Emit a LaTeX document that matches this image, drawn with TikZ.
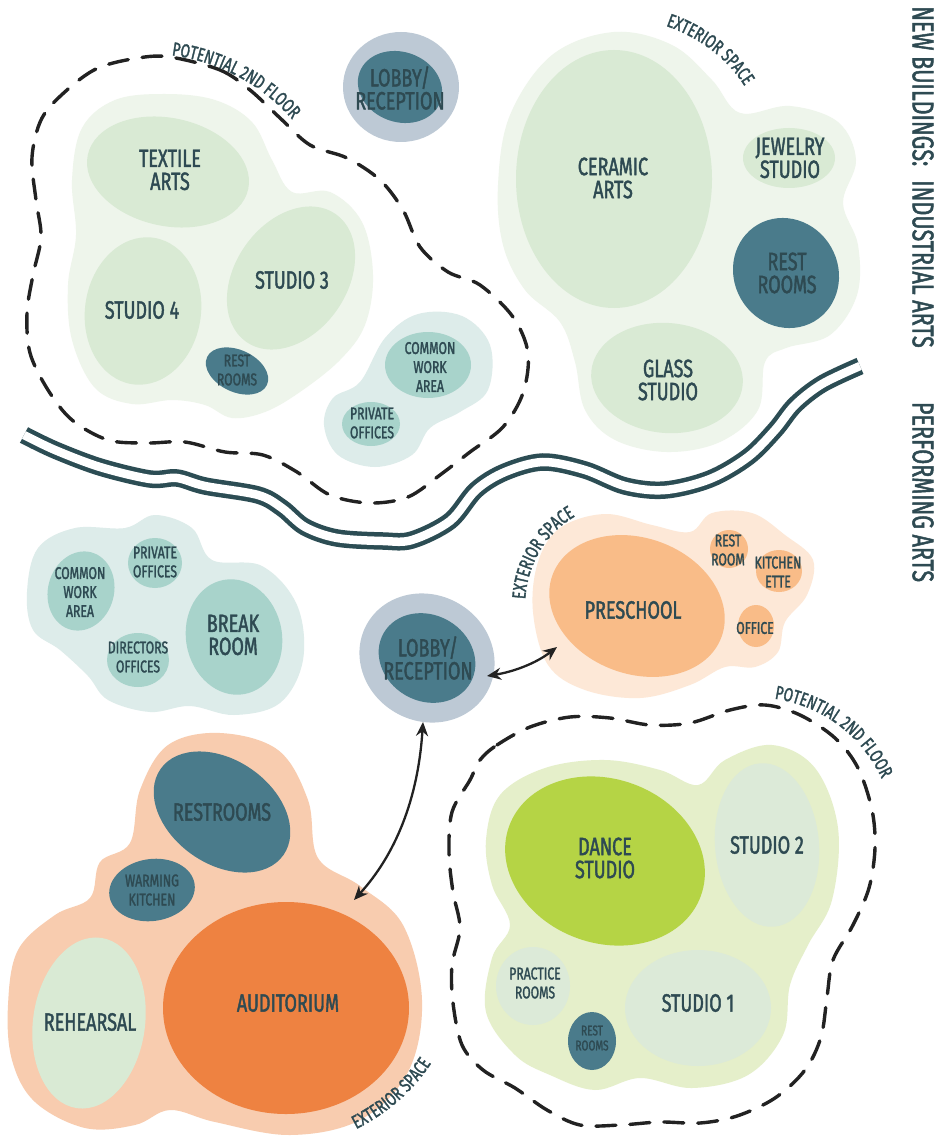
\documentclass[tikz,border=0pt]{standalone}
\usepackage{fontspec}
\setmainfont{Fira Sans}[FakeStretch=0.72, FakeBold=1.6]
\usetikzlibrary{arrows.meta,decorations.text}

% palette
\definecolor{txt}{HTML}{2E4A52}
\definecolor{haloGreen}{HTML}{EEF5EB}
\definecolor{sage}{HTML}{D9EAD4}
\definecolor{teal}{HTML}{4A7B8B}
\definecolor{lobbyHalo}{HTML}{BDC9D5}
\definecolor{officeHalo}{HTML}{DDECEA}
\definecolor{officeRoom}{HTML}{A8D3CB}
\definecolor{schoolHalo}{HTML}{FDE8D7}
\definecolor{school}{HTML}{F9BC88}
\definecolor{audHalo}{HTML}{F8CCAF}
\definecolor{aud}{HTML}{EE8241}
\definecolor{danceHalo}{HTML}{E5EFCA}
\definecolor{dance}{HTML}{B5D445}
\definecolor{studioRoom}{HTML}{DCEAD8}
\definecolor{river}{HTML}{2C4D54}
\definecolor{ink}{HTML}{222222}

\tikzset{
  room/.style={font=\fontsize{25}{23}\selectfont, text=txt, align=center, inner sep=0pt},
  roomsm/.style={font=\fontsize{17}{19}\selectfont, text=txt, align=center, inner sep=0pt},
  roomxs/.style={font=\fontsize{14}{15}\selectfont, text=txt, align=center, inner sep=0pt},
  heading/.style={font=\fontsize{30}{30}\selectfont, text=txt, rotate=-90, inner sep=0pt},
  dashline/.style={draw=ink, line width=3.4pt, dash pattern=on 20pt off 14pt, line cap=round},
  riverline/.style={draw=river, line width=4.5pt, double=white, double distance=8.5pt},
  link/.style={draw=ink, line width=2.3pt, {Stealth[length=14pt,width=12pt]}-{Stealth[length=14pt,width=12pt]}},
  curvelabel/.style={decorate, decoration={text along path, text align=center, text color=txt,
      text={|\fontsize{19}{19}\selectfont|#1}}},
}

% filled, rotated ellipse: x, y, x radius, y radius, angle, colour
\newcommand\blob[6]{\fill[#6, rotate around={#5:(#1,#2)}] (#1,#2) ellipse [x radius=#3pt, y radius=#4pt];}

\begin{document}
\begin{tikzpicture}[x=1pt,y=-1pt]
\useasboundingbox (0,0) rectangle (948,1139);
\fill[white] (0,0) rectangle (948,1139);

% ---------- industrial arts ----------
% studio cluster
\fill[haloGreen] plot[smooth cycle, tension=0.6] coordinates {
  (72,180) (82,128) (115,100) (165,94) (215,100) (252,122) (272,160) (292,192)
  (330,192) (362,222) (373,275) (365,325) (340,360) (300,392) (265,412) (232,418)
  (205,405) (172,400) (132,404) (95,388) (72,340) (68,285) (76,235)};
\blob{168}{172}{82}{54}{-12}{sage}
\blob{143}{311}{58}{74}{-8}{sage}
\blob{291}{278}{78}{56}{55}{sage}
\blob{237}{371}{33}{21}{-25}{teal}

% lobby
\blob{401}{87}{58}{55}{0}{lobbyHalo}
\blob{400}{87}{43}{35}{-20}{teal}

% offices
\fill[officeHalo] plot[smooth cycle, tension=0.6] coordinates {
  (324,425) (333,398) (360,382) (385,338) (418,314) (462,316) (490,345) (488,390)
  (460,412) (430,428) (412,455) (375,467) (338,455)};
\blob{428}{365}{43}{33}{0}{officeRoom}
\blob{371}{424}{29}{22}{0}{officeRoom}

% ceramic / glass cluster
\fill[haloGreen] plot[smooth cycle, tension=0.6] coordinates {
  (498,185) (510,115) (552,55) (614,32) (672,45) (712,80) (740,113) (790,106)
  (838,122) (856,160) (843,203) (858,245) (857,295) (830,335) (786,348) (765,362)
  (758,410) (720,442) (667,452) (615,440) (585,410) (575,362) (560,322) (525,290) (503,245)};
\blob{614}{179}{98}{129}{0}{sage}
\blob{789}{158}{46}{30}{0}{sage}
\blob{786}{273}{52}{56}{30}{teal}
\blob{667}{378}{76}{55}{-5}{sage}

% second floor outline
\draw[dashline] plot[smooth cycle, tension=0.55] coordinates {
  (170,57) (220,70) (250,90) (280,118) (310,145) (347,158) (380,180) (403,210)
  (420,247) (448,272) (480,285) (513,317) (528,353) (523,393) (503,427) (470,452)
  (440,475) (408,497) (370,503) (330,495) (297,472) (263,455) (225,452) (185,442)
  (147,443) (108,440) (72,420) (48,390) (30,353) (27,313) (33,275) (41,237)
  (36,200) (32,157) (42,118) (67,90) (98,68) (138,58)};

% ---------- river ----------
\draw[riverline] plot[smooth, tension=0.55] coordinates {
  (24,435) (55,450) (100,467) (150,479) (177,478) (205,486) (258,495) (282,508)
  (305,527) (337,538) (383,541) (412,540) (450,521) (476,490) (505,472) (543,462)
  (585,470) (625,486) (665,490) (710,479) (748,457) (775,430) (795,405) (822,384) (860,366)};

% ---------- performing arts ----------
% administration
\fill[officeHalo] plot[smooth cycle, tension=0.6] coordinates {
  (27,592) (38,548) (75,528) (125,528) (155,515) (192,528) (212,560) (262,566)
  (297,605) (303,660) (280,703) (234,715) (190,706) (150,712) (108,700) (88,676)
  (60,650) (33,630)};
\blob{81}{591}{33}{40}{-15}{officeRoom}
\blob{155}{563}{27}{25}{0}{officeRoom}
\blob{138}{660}{31}{27}{0}{officeRoom}
\blob{234}{637}{48}{58}{10}{officeRoom}

% lobby
\blob{427}{658}{69}{63}{-30}{lobbyHalo}
\blob{427}{658}{50}{43}{-30}{teal}

% preschool
\fill[schoolHalo] plot[smooth cycle, tension=0.6] coordinates {
  (533,612) (538,562) (560,528) (605,514) (652,525) (690,532) (712,513) (752,513)
  (785,535) (813,560) (807,595) (785,622) (778,652) (755,667) (725,667) (690,685)
  (640,698) (585,690) (548,665)};
\blob{637}{606}{90}{68}{-20}{school}
\blob{729}{549}{19}{19}{0}{school}
\blob{779}{571}{23}{21}{0}{school}
\blob{756}{626}{18}{21}{0}{school}

% auditorium
\fill[audHalo] plot[smooth cycle, tension=0.6] coordinates {
  (8,1005) (18,950) (55,915) (90,898) (100,862) (130,843) (140,790) (168,745)
  (220,733) (278,750) (308,800) (318,858) (360,886) (403,925) (422,1000) (408,1072)
  (360,1120) (290,1135) (215,1122) (170,1110) (135,1125) (85,1128) (35,1102) (12,1060)};
\blob{222}{812}{75}{52}{-35}{teal}
\blob{152}{890}{43}{31}{8}{teal}
\blob{89}{1023}{56}{86}{-8}{sage}
\blob{286}{1008}{123}{106}{0}{aud}

% dance
\fill[danceHalo] plot[smooth cycle, tension=0.6] coordinates {
  (486,840) (500,795) (545,768) (605,760) (660,770) (698,785) (725,760) (772,745)
  (815,768) (838,828) (832,900) (808,945) (790,985) (783,1035) (748,1075) (692,1088)
  (640,1078) (595,1090) (550,1075) (515,1055) (486,1012) (492,958) (510,925) (492,885)};
\blob{605}{861}{102}{82}{-20}{dance}
\blob{767}{845}{52}{82}{5}{studioRoom}
\blob{533}{986}{37}{39}{0}{studioRoom}
\blob{698}{1008}{73}{58}{0}{studioRoom}
\blob{592}{1041}{24}{29}{0}{teal}

\draw[dashline] plot[smooth cycle, tension=0.55] coordinates {
  (480,760) (497,745) (530,727) (570,717) (610,718) (650,725) (690,723) (730,710)
  (765,705) (800,715) (835,738) (858,768) (872,810) (875,848) (869,888) (853,925)
  (833,960) (827,997) (821,1037) (805,1070) (775,1098) (737,1116) (700,1123) (660,1122)
  (620,1125) (580,1125) (547,1110) (515,1088) (483,1070) (462,1045) (453,1003) (452,965)
  (460,928) (453,892) (449,853) (452,812) (470,780)};

% ---------- room names ----------
\node[room] (textile) at (170,170) {TEXTILE\\ARTS};
\node[room] (studioFour) at (142,310) {STUDIO 4};
\node[room] (studioThree) at (292,280) {STUDIO 3};
\node[roomsm] (restA) at (237,370) {REST\\ROOMS};
\node[room] (lobbyA) at (400,88) {LOBBY/\\RECEPTION};
\node[roomsm] (commonA) at (430,367) {COMMON\\WORK\\AREA};
\node[roomsm] (privateA) at (372,423) {PRIVATE\\OFFICES};
\node[room] (ceramic) at (613,178) {CERAMIC\\ARTS};
\node[room] (jewelry) at (790,158) {JEWELRY\\STUDIO};
\node[room] (restB) at (787,273) {REST\\ROOMS};
\node[room] (glass) at (668,380) {GLASS\\STUDIO};

\node[roomsm] (commonB) at (80,592) {COMMON\\WORK\\AREA};
\node[roomsm] (privateB) at (155,562) {PRIVATE\\OFFICES};
\node[roomsm] (directors) at (138,657) {DIRECTORS\\OFFICES};
\node[room] (breakroom) at (233,635) {BREAK\\ROOM};
\node[room] (lobbyB) at (428,658) {LOBBY/\\RECEPTION};
\node[room] (preschool) at (633,610) {PRESCHOOL};
\node[roomsm] (restC) at (728,550) {REST\\ROOM};
\node[roomsm] (kitchenette) at (778,572) {KITCHEN\\ETTE};
\node[roomsm] (office) at (755,628) {OFFICE};
\node[room] (restrooms) at (222,812) {RESTROOMS};
\node[roomsm] (warming) at (152,890) {WARMING\\KITCHEN};
\node[room] (rehearsal) at (90,1022) {REHEARSAL};
\node[room] (auditorium) at (288,1003) {AUDITORIUM};
\node[room] (danceStudio) at (605,858) {DANCE\\STUDIO};
\node[room] (studioTwo) at (767,845) {STUDIO 2};
\node[roomsm] (practice) at (535,983) {PRACTICE\\ROOMS};
\node[roomxs] (restD) at (592,1038) {REST\\ROOMS};
\node[room] (studioOne) at (698,1003) {STUDIO 1};

% ---------- side headings ----------
\node[heading] (headA) at (923,177) {NEW BUILDINGS:\hspace{14pt}INDUSTRIAL ARTS};
\node[heading] (headB) at (923,492) {PERFORMING ARTS};

% ---------- curved labels ----------
\path[curvelabel={POTENTIAL 2ND FLOOR}]
  (156,54) .. controls (208,56) and (266,82) .. (302,132);
\path[curvelabel={EXTERIOR SPACE}]
  (636,18) .. controls (690,28) and (738,58) .. (758,114);
\path[curvelabel={EXTERIOR SPACE}]
  (526,620) .. controls (520,572) and (545,524) .. (594,508);
\path[curvelabel={EXTERIOR SPACE}]
  (332,1140) .. controls (378,1122) and (420,1092) .. (444,1040);
\path[curvelabel={POTENTIAL 2ND FLOOR}]
  (752,697) .. controls (810,697) and (868,730) .. (890,800);

% ---------- circulation ----------
\coordinate (lobbyE) at (487,676);
\coordinate (schoolW) at (557,647);
\coordinate (lobbyS) at (423,722);
\coordinate (audNE) at (354,900);
\draw[link] (lobbyE) .. controls (512,672) and (535,664) .. (schoolW);
\draw[link] (lobbyS) .. controls (418,800) and (395,855) .. (audNE);
\end{tikzpicture}
\end{document}
